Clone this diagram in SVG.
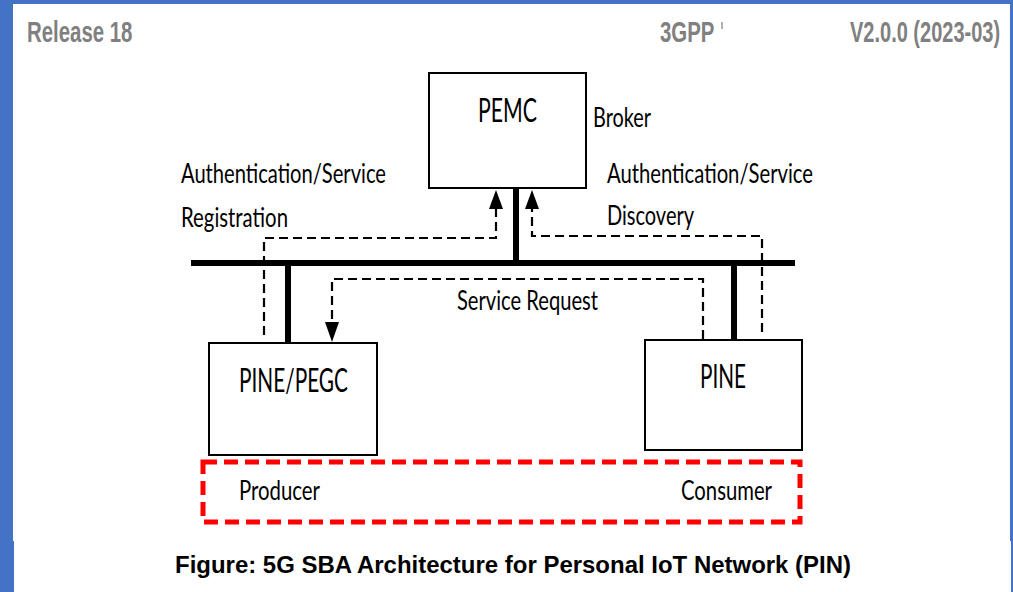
<svg xmlns="http://www.w3.org/2000/svg" width="1013" height="592" viewBox="0 0 1013 592">
  <style>
    .box { fill: #ffffff; stroke: #000000; stroke-width: 2; }
    .bus { stroke: #000000; stroke-width: 6; fill: none; }
    .dash { stroke: #000000; stroke-width: 2.2; fill: none; stroke-dasharray: 9 5; }
    .zone { fill: none; stroke: #ff0000; stroke-width: 5; stroke-dasharray: 14 7; }
    .lbl { font-family: Lato, "Open Sans", sans-serif; font-size: 27px; fill: #000000; }
    .node { font-family: Lato, "Open Sans", sans-serif; font-size: 32px; fill: #000000; }
    .hdr { font-family: "Liberation Sans", Arial, sans-serif; font-weight: bold; font-size: 30px; fill: #808080; }
    .cap { font-family: "Liberation Sans", Arial, sans-serif; font-weight: bold; font-size: 24px; fill: #000000; }
  </style>

  <!-- page frame -->
  <rect x="0" y="0" width="1013" height="592" fill="#ffffff"/>
  <rect x="0" y="0" width="1013" height="4" fill="#4472c4"/>
  <rect x="0" y="0" width="13" height="541" fill="#4472c4"/>
  <rect x="0" y="541" width="14" height="51" fill="#4472c4"/>
  <rect x="1010" y="0" width="3" height="541" fill="#4472c4"/>
  <rect x="1011" y="541" width="2" height="51" fill="#4472c4"/>

  <!-- running header, condensed horizontally -->
  <g id="header">
    <text class="hdr" transform="translate(27,42) scale(0.68,1)" x="0" y="0">Release 18</text>
    <text class="hdr" transform="translate(660,42) scale(0.68,1)" x="0" y="0">3GPP</text>
    <rect x="721" y="22" width="2" height="7" fill="#b0b0b0"/>
    <text class="hdr" transform="translate(850,42) scale(0.667,1)" x="0" y="0">V2.0.0 (2023-03)</text>
  </g>

  <!-- connectors: service bus, attachments and message flows -->
  <g id="connectors">
    <line class="bus" x1="191" y1="263" x2="795" y2="263"/>
    <line class="bus" x1="516" y1="188" x2="516" y2="266"/>
    <line class="bus" x1="288" y1="263" x2="288" y2="343"/>
    <line class="bus" x1="734" y1="263" x2="734" y2="340"/>

    <!-- registration: PINE/PEGC to PEMC -->
    <path class="dash" d="M264,335 L264,238 L496,238 L496,206"/>
    <path d="M489,209 L496,190 L503,209 Z" fill="#000000"/>

    <!-- discovery: PINE to PEMC -->
    <path class="dash" d="M762,332 L762,236 L532,236 L532,206"/>
    <path d="M525,209 L532,190 L539,209 Z" fill="#000000"/>

    <!-- service request: PINE to PINE/PEGC -->
    <path class="dash" d="M703,339 L703,279 L332,279 L332,324"/>
    <path d="M325,322 L332,342 L339,322 Z" fill="#000000"/>
  </g>

  <g id="pemc">
    <rect class="box" x="429" y="73" width="157" height="115"/>
    <text class="node" x="478" y="122" textLength="59" lengthAdjust="spacingAndGlyphs">PEMC</text>
  </g>

  <g id="pine-pegc">
    <rect class="box" x="209" y="343" width="168" height="112"/>
    <text class="node" x="239" y="392" textLength="109" lengthAdjust="spacingAndGlyphs">PINE/PEGC</text>
  </g>

  <g id="pine">
    <rect class="box" x="645" y="340" width="157" height="110"/>
    <text class="node" x="700" y="388" textLength="46" lengthAdjust="spacingAndGlyphs">PINE</text>
  </g>

  <g id="roles">
    <rect class="zone" x="203" y="462" width="597" height="60"/>
    <text class="lbl" x="239" y="500" textLength="81" lengthAdjust="spacingAndGlyphs">Producer</text>
    <text class="lbl" x="681" y="500" textLength="91" lengthAdjust="spacingAndGlyphs">Consumer</text>
  </g>

  <g id="labels">
    <text class="lbl" x="593" y="127" textLength="58" lengthAdjust="spacingAndGlyphs">Broker</text>
    <text class="lbl" x="181" y="183" textLength="205" lengthAdjust="spacingAndGlyphs">Authentication/Service</text>
    <text class="lbl" x="181" y="227" textLength="107" lengthAdjust="spacingAndGlyphs">Registration</text>
    <text class="lbl" x="607" y="183" textLength="206" lengthAdjust="spacingAndGlyphs">Authentication/Service</text>
    <text class="lbl" x="607" y="225" textLength="87" lengthAdjust="spacingAndGlyphs">Discovery</text>
    <text class="lbl" x="457" y="310" textLength="141" lengthAdjust="spacingAndGlyphs">Service Request</text>
  </g>

  <text class="cap" x="175" y="573" textLength="676" lengthAdjust="spacingAndGlyphs">Figure: 5G SBA Architecture for Personal IoT Network (PIN)</text>
</svg>
